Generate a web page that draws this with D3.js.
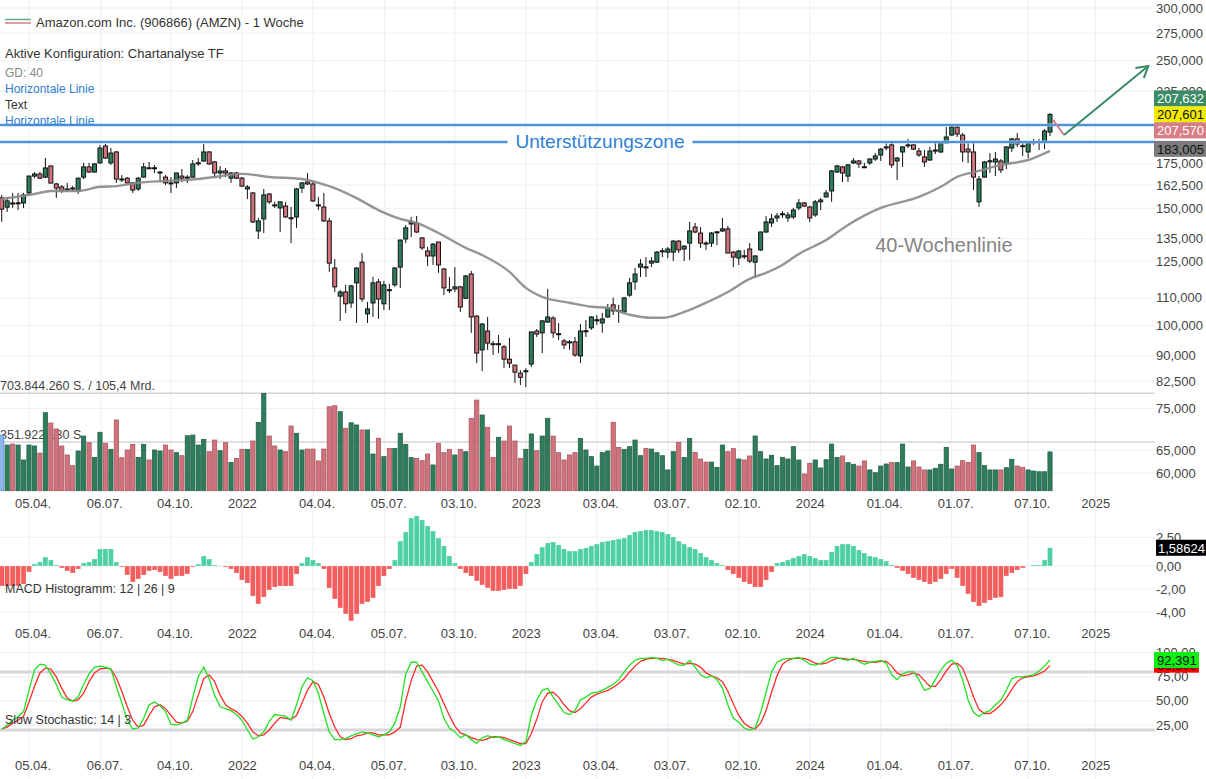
<!DOCTYPE html>
<html>
<head>
<meta charset="utf-8">
<script src="https://cdn.jsdelivr.net/npm/d3@7"></script>
<style>
  body { margin: 0; background: #fff; }
  svg { display: block; font-family: "Liberation Sans", Arial, sans-serif; }
</style>
</head>
<body>
<svg id="chart"></svg>
<script>
// weekly candles, AMZN in EUR, first week 01.03.2021
const firstWeek = '2021-03-01';
const open = [155.5,150.6,152.8,152.6,152.8,158.2,167.7,168.9,167.1,173.7,163.2,161.5,160.4,160.9,159.3,167.1,173.1,170.1,175.5,186.1,
  175.5,182.3,166.0,166.5,163.8,160.4,167.1,172.6,172.4,169.5,167.1,163.8,163.8,167.7,166.5,167.1,175.4,176.7,182.3,176.1,
  169.5,170.7,166.5,169.5,166.5,160.4,158.2,138.7,144.6,157.6,151.8,150.2,151.2,145.2,145.6,160.9,164.3,163.2,151.8,150.7,
  143.6,122.0,110.7,112.3,108.1,115.9,124.5,104.1,108.1,116.3,107.8,113.2,115.1,122.4,134.9,142.1,142.6,135.4,129.4,127.2,
  133.5,121.6,113.2,113.5,114.3,109.9,119.5,103.3,91.9,98.1,93.9,93.7,92.9,89.0,87.2,84.8,85.4,87.5,98.1,97.5,
  101.2,102.6,97.2,94.8,94.5,94.5,90.0,98.0,99.2,101.8,100.9,103.0,107.4,105.3,104.8,111.1,116.3,122.4,122.5,124.1,
  124.5,129.3,128.9,128.9,133.9,130.3,133.0,140.6,137.7,133.0,133.0,138.0,138.7,139.7,128.9,126.3,127.3,130.3,124.5,129.9,
  138.2,142.6,145.1,147.0,145.1,145.6,150.2,152.8,150.7,146.6,153.4,156.0,159.3,170.1,173.1,167.7,175.5,176.7,173.2,175.5,
  177.9,180.4,185.3,186.8,176.7,182.3,186.6,186.8,182.9,179.2,177.3,183.3,182.3,188.1,193.3,198.7,193.3,184.1,182.3,153.4,
  167.1,176.6,176.1,176.7,174.9,184.8,190.7,186.3,182.3,188.6,188.7,188.7,195.3];
const high = [157.1,156.0,158.2,158.2,158.2,168.0,170.1,170.1,178.6,174.0,163.8,162.6,163.8,162.0,166.8,175.5,175.5,175.5,186.8,187.4,
  184.8,182.9,168.3,167.1,164.3,167.1,175.5,176.1,174.3,170.4,168.3,167.1,169.7,171.9,168.3,177.3,178.5,187.4,182.9,176.7,
  173.7,172.5,170.1,170.1,167.1,162.6,158.7,145.1,160.4,158.2,153.4,153.6,153.4,150.7,160.9,164.3,169.5,164.3,156.0,158.2,
  145.1,125.8,113.1,115.1,115.1,122.4,128.5,108.5,118.3,117.5,116.7,115.5,122.4,134.6,141.6,145.6,146.1,135.8,131.2,133.0,
  133.5,122.0,118.3,122.4,114.7,119.1,120.8,103.7,100.9,103.0,94.8,96.8,93.5,95.8,87.2,85.7,86.3,97.8,98.8,101.9,
  113.5,103.3,100.9,95.5,95.1,96.1,100.5,101.9,103.3,103.7,104.4,107.7,110.1,107.4,110.4,117.9,122.0,125.8,126.7,126.7,
  129.4,130.8,131.2,134.4,134.4,132.1,143.1,142.6,140.6,133.9,138.2,138.4,145.1,141.1,129.4,129.9,129.9,133.0,127.6,138.4,
  146.1,147.1,147.6,148.6,148.1,150.2,155.0,153.4,151.2,154.4,155.5,159.8,171.3,174.3,173.7,174.9,178.5,177.3,175.5,178.5,
  181.6,184.8,188.1,188.1,179.2,186.1,190.7,187.4,184.8,183.5,185.5,188.1,188.7,198.7,199.4,199.4,194.6,188.7,188.7,167.7,
  176.7,181.6,182.3,177.9,185.7,191.3,194.6,188.1,188.7,190.7,190.7,197.4,208.5];
const low = [143.1,148.1,150.2,149.1,150.2,157.1,166.5,166.0,166.5,163.5,155.5,158.2,158.7,158.7,157.6,166.0,169.5,169.5,175.2,177.9,
  174.3,163.8,164.3,163.6,158.2,159.3,166.9,171.9,169.5,164.3,162.6,158.2,160.9,164.3,163.8,166.9,173.7,176.1,174.3,166.5,
  166.0,167.1,163.8,166.0,161.5,154.9,142.6,134.9,137.7,152.3,150.2,138.2,145.1,133.0,140.2,158.2,162.6,153.4,149.1,143.1,
  120.4,112.3,101.6,104.4,106.3,100.9,108.5,100.9,103.0,102.3,105.5,105.5,114.3,113.9,133.0,135.8,137.7,129.9,122.9,123.3,
  120.0,111.1,111.9,112.3,104.8,109.6,97.5,87.8,85.4,91.9,90.3,90.9,86.3,86.3,82.0,81.4,80.8,86.6,96.1,90.9,
  100.9,95.8,95.1,92.2,91.9,89.7,87.8,96.1,98.5,100.2,97.5,102.7,103.7,100.9,104.4,110.4,113.1,118.3,118.3,122.4,
  124.1,126.7,126.3,125.0,128.5,125.0,125.4,137.7,130.8,129.9,131.2,132.1,138.2,128.5,122.4,123.3,125.8,124.1,117.9,129.4,
  137.7,140.6,143.1,145.1,143.1,144.6,149.1,150.7,143.1,145.6,149.1,155.8,153.4,169.5,164.3,164.3,174.9,172.5,172.5,174.3,
  176.7,176.7,183.5,172.5,165.4,173.1,184.8,183.5,179.2,173.1,176.7,181.0,181.6,187.8,192.6,192.0,176.1,175.5,159.8,150.7,
  166.9,169.5,167.7,169.5,171.9,182.3,185.5,179.8,178.5,186.8,183.5,184.1,192.6];
const close = [149.6,153.9,152.6,152.9,157.1,167.7,168.9,166.5,172.5,163.7,160.9,159.3,160.3,160.4,166.5,173.1,170.1,174.9,184.8,178.5,
  181.6,166.0,165.8,163.8,159.8,166.5,173.1,172.4,172.6,170.1,163.8,163.6,169.5,166.5,167.1,174.9,175.6,182.3,174.9,169.5,
  170.7,169.5,169.5,166.5,162.0,161.5,143.1,143.6,157.1,153.4,151.6,153.4,145.6,145.0,160.4,163.8,163.2,153.9,151.6,143.6,
  124.1,114.3,112.3,107.8,114.7,122.0,109.6,105.9,115.9,109.6,115.1,113.0,122.0,134.4,140.2,143.1,138.2,130.8,127.2,132.5,
  123.3,113.9,113.0,114.3,106.6,118.7,103.0,90.9,100.5,94.1,93.7,93.9,89.0,87.8,85.1,83.6,85.5,97.8,97.1,101.6,
  103.0,97.5,97.0,93.5,94.3,90.3,98.1,98.2,103.0,102.0,102.3,106.3,105.2,105.1,110.0,115.9,119.5,123.7,122.3,125.0,
  128.9,129.5,130.3,133.9,129.9,131.6,138.7,138.2,133.0,132.8,137.7,138.3,139.7,128.5,126.7,129.4,127.1,125.0,127.2,138.2,
  143.1,144.6,146.1,147.2,146.6,149.1,152.8,151.2,145.1,153.4,154.4,158.2,170.7,173.7,169.5,174.3,176.7,174.9,173.0,177.9,
  179.8,184.1,185.5,174.3,178.5,185.5,186.8,184.1,180.4,176.1,182.9,183.5,188.1,192.0,198.7,194.0,182.3,182.3,167.1,166.0,
  176.1,176.8,177.9,171.3,185.5,190.7,187.4,186.1,188.1,188.8,188.9,196.0,207.6];

// weekly volume, million shares
const volume = [402,330,337,330,222,330,323,272,564,489,446,323,258,181,287,395,347,241,422,342,
  299,511,238,294,335,241,335,222,294,287,330,294,275,253,397,402,330,371,282,366,
  289,347,205,234,299,299,359,494,703.8,395,323,294,282,467,415,294,301,301,215,301,
  607,614,571,451,491,475,439,439,265,379,246,306,306,415,335,239,234,217,265,186,
  342,275,299,258,299,282,523,655,547,458,241,386,359,467,359,234,299,410,289,395,
  523,395,275,222,258,275,378,294,246,178,275,287,494,313,299,318,366,253,306,301,
  275,253,150,282,349,239,378,277,229,207,207,169,330,282,304,229,222,251,395,282,
  229,256,181,241,229,318,222,121,198,222,164,224,337,241,251,203,191,178,215,150,
  130,178,193,203,203,337,171,215,171,150,150,162,191,313,157,178,217,205,330,275,
  181,150,150,150,166,227,178,169,150,142,137,137,280];
const volMax = 703.844;

// 40-week moving average (sampled)
const maWeek = [0,6,9,14,18,21,25,30,36,39,44,49,55,58,61,65,69,73,76,80,85,88,93,96,99,104,108,111,115,119,121,125,129,133,137,140,143,146,151,155,161,168,172,175,179,183,188,192];
const maValue = [154.9,157.6,159.3,159.3,161.6,162.0,163.8,164.9,166.0,167.2,169.0,167.2,166.0,163.8,160.9,155.4,149.1,144.6,142.6,137.7,130.8,127.6,120.4,113.9,110.4,108.2,106.7,106.3,103.8,102.7,102.7,104.8,108.2,112.3,117.5,120.0,123.3,128.1,134.4,141.6,150.2,156.0,161.6,167.2,170.7,174.3,177.3,183.005];

// MACD histogram 12 | 26 | 9
const macd = [-1.74,-1.74,-1.74,-1.74,-1.57,-0.52,0.17,0.35,0.78,0.52,0.09,-0.17,-0.43,-0.61,-0.26,0.26,0.35,0.61,1.48,1.48,
  1.48,0.35,-0.09,-0.78,-1.39,-1.13,-0.78,-0.43,-0.35,-0.52,-0.87,-1.13,-0.87,-0.87,-0.70,-0.09,0.17,0.87,0.61,0.09,
  0.02,-0.09,-0.26,-0.61,-1.22,-1.48,-2.61,-3.30,-2.70,-2.09,-1.83,-1.74,-1.74,-1.74,-0.70,0.26,0.78,0.52,0.26,-0.26,
  -1.91,-2.87,-3.65,-4.17,-4.78,-4.17,-3.30,-3.13,-2.78,-1.74,-0.87,-0.26,0.52,2.17,2.96,4.17,4.35,4.00,3.48,3.04,
  2.43,1.74,0.87,0.26,-0.26,-0.61,-0.87,-1.30,-1.65,-1.91,-2.17,-2.17,-2.09,-2.00,-2.00,-1.74,-0.70,0.35,1.04,1.65,
  2.00,2.09,1.83,1.48,1.30,1.30,1.48,1.57,1.74,1.91,2.09,2.17,2.26,2.35,2.43,2.70,2.96,3.04,3.13,3.13,
  3.04,2.96,2.78,2.52,2.17,1.91,1.65,1.48,1.13,0.78,0.52,0.26,0.09,-0.35,-0.70,-1.04,-1.39,-1.57,-1.83,-1.83,
  -1.22,-0.52,0.26,0.35,0.52,0.70,0.87,1.04,0.87,0.70,0.52,0.52,1.22,1.74,1.91,1.91,1.74,1.39,1.13,0.87,
  0.78,0.61,0.43,0.09,-0.17,-0.43,-0.70,-1.04,-1.22,-1.39,-1.57,-1.39,-1.13,-0.70,-0.26,-1.04,-1.74,-2.43,-3.13,-3.48,
  -3.22,-2.96,-2.78,-2.70,-0.87,-0.61,-0.35,-0.17,0.02,0.09,0.09,0.52,1.58624];

// Slow Stochastic 14 | 3
const stochK = [20.7,25,30,34,39,61,82,88,87,78,67,54,51,50,54,67,78,85,86,85,
  83,65,48,30,21,22,32,46,49,45,39,26,25,27,30,54,75,85,73,56,
  44,42,40,36,30,20,10.6,13,18,29,36,35,34,30,46,65,74,71,58,37,
  18,10,10,11,14,16,18,17,15,13,15,18,27,44,78,90,90,80,70,60,
  50,32,22,18,12,15,10,6,12,14,12,13,10,8,6,4,8,35,51,61,
  63,54,46,38,36,40,51,54,58,59,61,64,67,72,80,87,92,94,94,95,
  94,92,93,90,87,87,92,85,77,74,76,72,63,46,32,28,22,20,22,38,
  59,80,90,93,94,94,95,92,88,87,89,92,95,95,93,92,94,91,88,90,
  91,92,89,77,72,78,80,80,72,61,63,72,82,89,92,87,72,51,38,34,
  38,40,46,51,61,73,75,75,76,77,81,86,92.391];
const stochD = [21,23,27,30,34,49,65,79,84,83,75,63,53,50,51,58,70,79,83,84,
  83,74,60,44,30,23,25,35,44,46,42,35,28,27,29,39,56,73,77,70,
  56,46,42,39,34,27,18,14,15,20,27,33,32,31,35,48,61,70,67,54,
  37,23,13,10,11,14,15,17,17,15,15,15,18,23,50,71,86,87,80,70,
  60,47,35,24,17,15,12,10,9,11,13,13,12,10,8,6,6,16,31,49,
  58,59,54,46,40,38,42,48,54,57,59,61,64,68,73,80,86,91,93,94,
  94,94,93,92,90,88,89,88,85,79,76,74,70,60,47,35,27,23,21,27,
  40,59,76,88,92,94,94,94,92,89,88,89,92,94,94,93,93,92,91,90,
  90,91,91,86,79,76,77,79,77,71,65,65,72,81,88,89,84,70,54,41,
  37,37,41,46,53,62,70,74,75,76,78,81,86.5];

// axis ticks
const tickDates = ['2021-04-05','2021-07-06','2021-10-04','2022-01-03','2022-04-04','2022-07-05','2022-10-03','2023-01-02',
  '2023-04-03','2023-07-03','2023-10-02','2024-01-01','2024-04-01','2024-07-01','2024-10-07','2025-01-01'];
const tickLabels = ['05.04.','06.07.','04.10.','2022','04.04.','05.07.','03.10.','2023','03.04.','03.07.','02.10.','2024','01.04.','01.07.','07.10.','2025'];
const priceTicks = [300,275,250,225,200,175,162.5,150,135,125,110,100,90,82.5,75,65,60];
const macdTicks = [2.5,0,-2,-4];
const stochTicks = [100,75,50,25];
const stochBands = [80,20];

// drawn objects (in data coordinates)
const hLines = [200.1, 188.7];
const zoneLabel = 'Unterstützungszone';
const arrowDown = [['2024-11-08', 203.6], ['2024-11-22', 193.3]];
const arrowUp = [['2024-11-22', 193.3], ['2025-03-10', 245.5]];
const maLabel = { date: '2024-06-21', price: 132.1, text: '40-Wochenlinie' };

const lastLabels = [
  { text: '207,632', bg: '#3a8a66', fg: '#fff' },
  { text: '207,601', bg: '#f2ea00', fg: '#111' },
  { text: '207,570', bg: '#d87c86', fg: '#fff' }
];

// ---------------------------------------------------------------
const width = 1206, height = 779;
const svg = d3.select('#chart').attr('width', width).attr('height', height);
const parse = d3.timeParse('%Y-%m-%d');
const start = parse(firstWeek);
const weeks = open.map((_, i) => d3.timeDay.offset(start, 7 * i));

const green = '#2f7c5b', pink = '#d2727c', gridCol = '#eceef1', axisText = '#444';
const axisX = 1156, lineEnd = 1155;

const x = d3.scaleTime().domain([weeks[0], weeks[weeks.length - 1]]).range([1.7, 1050]);
const y = d3.scaleLog().domain([82.5, 300]).range([381.1, 8]);
const yVol = d3.scaleLinear().domain([0, volMax]).range([490.7, 393.3]);
const yMacd = d3.scaleLinear().domain([-4, 2.5]).range([612, 537.25]);
const yStoch = d3.scaleLinear().domain([0, 100]).range([749.3, 652.6]);

const fmt = (v, d) => v.toFixed(d).replace('.', ',');

// grid
const grid = svg.append('g');
grid.selectAll('line.v').data(tickDates).enter().append('line')
  .attr('x1', d => x(parse(d))).attr('x2', d => x(parse(d)))
  .attr('y1', 0).attr('y2', height)
  .style('stroke', gridCol).style('stroke-width', 1);
grid.selectAll('line.hp').data(priceTicks).enter().append('line')
  .attr('x1', 0).attr('x2', lineEnd).attr('y1', d => y(d)).attr('y2', d => y(d))
  .style('stroke', gridCol);
grid.selectAll('line.hm').data(macdTicks).enter().append('line')
  .attr('x1', 0).attr('x2', lineEnd).attr('y1', d => yMacd(d)).attr('y2', d => yMacd(d))
  .style('stroke', gridCol);
grid.selectAll('line.hs').data(stochTicks).enter().append('line')
  .attr('x1', 0).attr('x2', lineEnd).attr('y1', d => yStoch(d)).attr('y2', d => yStoch(d))
  .style('stroke', gridCol);

// volume pane
const volG = svg.append('g');
[volMax, volMax / 2].forEach(v => {
  volG.append('line').attr('x1', 0).attr('x2', lineEnd).attr('y1', yVol(v)).attr('y2', yVol(v))
    .style('stroke', '#d4d4d8').style('stroke-width', 1.5);
});
volG.append('text').attr('x', 0).attr('y', yVol(volMax) - 7).attr('dominant-baseline', 'middle')
  .style('font-size', '12.5px').style('fill', axisText).text('703.844.260 S. / 105,4 Mrd.');
volG.append('text').attr('x', 0).attr('y', yVol(volMax / 2) - 6).attr('dominant-baseline', 'middle')
  .style('font-size', '12.5px').style('fill', axisText).text('351.922.130 S.');

volG.selectAll('rect').data(volume).enter().append('rect')
  .attr('x', (d, i) => x(weeks[i]) - 2.1)
  .attr('width', 4.2)
  .attr('y', d => yVol(d))
  .attr('height', d => yVol(0) - yVol(d))
  .style('fill', (d, i) => i === 0 ? '#8db5ee' : (close[i] >= open[i] ? green : pink))
  .style('stroke', (d, i) => i === 0 ? '#5b8bd6' : (close[i] >= open[i] ? '#22624a' : '#a9575f'))
  .style('stroke-width', 0.8);

// candles
const candles = svg.append('g');
candles.selectAll('line').data(open).enter().append('line')
  .attr('x1', (d, i) => x(weeks[i])).attr('x2', (d, i) => x(weeks[i]))
  .attr('y1', (d, i) => y(high[i])).attr('y2', (d, i) => y(low[i]))
  .style('stroke', '#111').style('stroke-width', 1);
candles.selectAll('rect').data(open).enter().append('rect')
  .attr('x', (d, i) => x(weeks[i]) - 2)
  .attr('width', 4)
  .attr('y', (d, i) => y(Math.max(open[i], close[i])))
  .attr('height', (d, i) => Math.max(1, Math.abs(y(open[i]) - y(close[i]))))
  .style('fill', (d, i) => close[i] >= open[i] ? green : pink)
  .style('stroke', '#111').style('stroke-width', 1);

// 40-week line
const maLine = d3.line().x(d => x(weeks[d[0]])).y(d => y(d[1])).curve(d3.curveMonotoneX);
svg.append('path').datum(maWeek.map((w, i) => [w, maValue[i]]))
  .attr('d', maLine)
  .style('fill', 'none').style('stroke', '#8a8a8a').style('stroke-width', 2.4).style('opacity', 0.9);

// horizontal lines
hLines.forEach(v => {
  svg.append('line').attr('x1', 0).attr('x2', lineEnd).attr('y1', y(v)).attr('y2', y(v))
    .style('stroke', '#a9cdf2').style('stroke-width', 3);
  svg.append('line').attr('x1', 0).attr('x2', lineEnd).attr('y1', y(v)).attr('y2', y(v))
    .style('stroke', '#2f7fd3').style('stroke-width', 1.5);
});
const zone = svg.append('g');
const zoneText = zone.append('text').attr('x', 600).attr('y', y(hLines[1]))
  .attr('text-anchor', 'middle').attr('dominant-baseline', 'central')
  .style('font-size', '19px').style('fill', '#2f7fd3').text(zoneLabel);
const zb = zoneText.node().getBBox();
zone.insert('rect', 'text').attr('x', zb.x - 8).attr('y', zb.y).attr('width', zb.width + 16).attr('height', zb.height)
  .style('fill', '#fff');

// arrows
const ptLine = d3.line().x(d => x(parse(d[0]))).y(d => y(d[1]));
svg.append('path').attr('d', ptLine(arrowDown)).style('fill', 'none').style('stroke', '#d87c86').style('stroke-width', 2);
svg.append('path').attr('d', ptLine(arrowUp)).style('fill', 'none').style('stroke', '#3a8a66').style('stroke-width', 2);
{
  const x1 = x(parse(arrowUp[0][0])), y1 = y(arrowUp[0][1]);
  const x2 = x(parse(arrowUp[1][0])), y2 = y(arrowUp[1][1]);
  const ang = Math.atan2(y2 - y1, x2 - x1);
  const head = 13;
  const pts = [ang + Math.PI * 0.83, ang - Math.PI * 0.83].map(a => [x2 + head * Math.cos(a), y2 + head * Math.sin(a)]);
  svg.append('path').attr('d', `M${pts[0][0]},${pts[0][1]} L${x2},${y2} L${pts[1][0]},${pts[1][1]}`)
    .style('fill', 'none').style('stroke', '#3a8a66').style('stroke-width', 2);
}

svg.append('text').attr('x', x(parse(maLabel.date))).attr('y', y(maLabel.price))
  .attr('text-anchor', 'middle').attr('dominant-baseline', 'central')
  .style('font-size', '20px').style('fill', '#858585').text(maLabel.text);

// price axis labels
svg.selectAll('text.pt').data(priceTicks).enter().append('text')
  .attr('x', axisX).attr('y', d => y(d)).attr('dominant-baseline', 'central')
  .style('font-size', '13px').style('fill', axisText).text(d => fmt(d, 3));

// last price boxes
const lastY = y(close[close.length - 1]);
lastLabels.forEach((l, k) => {
  const cy = lastY + (k - 1) * 16;
  svg.append('rect').attr('x', axisX - 2).attr('y', cy - 8).attr('width', width - axisX + 2).attr('height', 16).style('fill', l.bg);
  svg.append('text').attr('x', axisX + 1).attr('y', cy + 0.5).attr('dominant-baseline', 'central')
    .style('font-size', '13px').style('fill', l.fg).text(l.text);
});
{
  const maLast = maValue[maValue.length - 1];
  const cy = y(maLast) - 2;
  svg.append('rect').attr('x', axisX - 2).attr('y', cy - 8).attr('width', width - axisX + 2).attr('height', 16).style('fill', '#7b7b7b');
  svg.append('text').attr('x', axisX + 1).attr('y', cy + 0.5).attr('dominant-baseline', 'central')
    .style('font-size', '13px').style('fill', '#111').text(fmt(maLast, 3));
}

// MACD pane
svg.selectAll('rect.macd').data(macd).enter().append('rect')
  .attr('x', (d, i) => x(weeks[i]) - 2.5)
  .attr('width', 5)
  .attr('y', d => Math.min(yMacd(d), yMacd(0)))
  .attr('height', d => Math.abs(yMacd(d) - yMacd(0)))
  .style('fill', d => d >= 0 ? '#4fd0a3' : '#f25e5e')
  .style('stroke', '#fff').style('stroke-width', 0.4).style('stroke-opacity', 0.6);
svg.append('text').attr('x', 5).attr('y', 589).attr('dominant-baseline', 'central')
  .style('font-size', '12.5px').style('fill', '#333').text('MACD Histogramm: 12 | 26 | 9');
svg.selectAll('text.mt').data(macdTicks).enter().append('text')
  .attr('x', axisX).attr('y', d => yMacd(d)).attr('dominant-baseline', 'central')
  .style('font-size', '13px').style('fill', axisText).text(d => fmt(d, 2));
{
  const v = macd[macd.length - 1];
  svg.append('rect').attr('x', axisX).attr('y', yMacd(v) - 8).attr('width', width - axisX).attr('height', 16).style('fill', '#000');
  svg.append('text').attr('x', axisX + 2).attr('y', yMacd(v) + 0.5).attr('dominant-baseline', 'central')
    .style('font-size', '13px').style('fill', '#fff').text(fmt(v, 5));
}

// stochastic pane
stochBands.forEach(v => {
  svg.append('line').attr('x1', 0).attr('x2', lineEnd).attr('y1', yStoch(v)).attr('y2', yStoch(v))
    .style('stroke', '#d6d6dc').style('stroke-width', 3);
});
const sLine = d3.line().x((d, i) => x(weeks[i])).y(d => yStoch(d));
svg.append('path').datum(stochD).attr('d', sLine).style('fill', 'none').style('stroke', '#ff2a2a').style('stroke-width', 1.3);
svg.append('path').datum(stochK).attr('d', sLine).style('fill', 'none').style('stroke', '#22e022').style('stroke-width', 1.3);
svg.append('text').attr('x', 5).attr('y', 720).attr('dominant-baseline', 'central')
  .style('font-size', '12.5px').style('fill', '#333').text('Slow Stochastic: 14 | 3');
svg.selectAll('text.st').data(stochTicks).enter().append('text')
  .attr('x', axisX).attr('y', d => yStoch(d)).attr('dominant-baseline', 'central')
  .style('font-size', '13px').style('fill', axisText).text(d => fmt(d, 2));
{
  const d = stochD[stochD.length - 1], k = stochK[stochK.length - 1];
  svg.append('rect').attr('x', axisX - 2).attr('y', yStoch(d) - 7).attr('width', 45).attr('height', 14).style('fill', '#f00');
  svg.append('text').attr('x', axisX + 1).attr('y', yStoch(d)).attr('dominant-baseline', 'central')
    .style('font-size', '13px').style('fill', '#111').text(fmt(d, 3));
  svg.append('rect').attr('x', axisX - 2).attr('y', yStoch(k) - 8).attr('width', 45).attr('height', 16).style('fill', '#11ee11');
  svg.append('text').attr('x', axisX + 1).attr('y', yStoch(k) + 0.5).attr('dominant-baseline', 'central')
    .style('font-size', '13px').style('fill', '#111').text(fmt(k, 3));
}

// date labels under each pane
[503, 633, 765].forEach(ly => {
  svg.append('g').selectAll('text').data(tickDates).enter().append('text')
    .attr('x', d => x(parse(d)) - 14).attr('y', ly).attr('dominant-baseline', 'central')
    .style('font-size', '13px').style('fill', axisText)
    .text((d, i) => tickLabels[i]);
});

// legend
const leg = svg.append('g');
leg.append('line').attr('x1', 5).attr('x2', 31).attr('y1', 19.5).attr('y2', 19.5).style('stroke', '#6aa98c').style('stroke-width', 1.5);
leg.append('line').attr('x1', 5).attr('x2', 31).attr('y1', 23).attr('y2', 23).style('stroke', '#d97b84').style('stroke-width', 1.5);
leg.append('text').attr('x', 36).attr('y', 22).attr('dominant-baseline', 'central')
  .style('font-size', '13px').style('fill', '#333').text('Amazon.com Inc. (906866) (AMZN) - 1 Woche');
const legRows = [
  ['Aktive Konfiguration: Chartanalyse TF', 53, '#333', '13px'],
  ['GD: 40', 73, '#888', '12px'],
  ['Horizontale Linie', 89, '#2f7fd3', '12px'],
  ['Text', 105, '#333', '12px'],
  ['Horizontale Linie', 121, '#2f7fd3', '12px']
];
leg.selectAll('text.r').data(legRows).enter().append('text')
  .attr('x', 5).attr('y', d => d[1]).attr('dominant-baseline', 'central')
  .style('font-size', d => d[3]).style('fill', d => d[2]).text(d => d[0]);
</script>
</body>
</html>
